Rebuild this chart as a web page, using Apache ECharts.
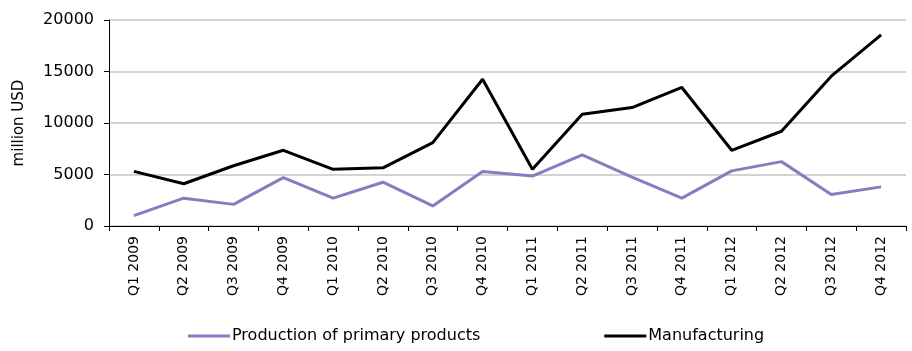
<!DOCTYPE html>
<html>
<head>
<meta charset="utf-8">
<script src="https://cdn.jsdelivr.net/npm/echarts@6/dist/echarts.min.js"></script>
<style>
  html, body { margin: 0; padding: 0; background: #fff; }
  #chart { width: 912px; height: 351px; }
</style>
</head>
<body>
<div id="chart"></div>
<script>
// Quarterly values, million USD
const quarters = [
  'Q1 2009', 'Q2 2009', 'Q3 2009', 'Q4 2009',
  'Q1 2010', 'Q2 2010', 'Q3 2010', 'Q4 2010',
  'Q1 2011', 'Q2 2011', 'Q3 2011', 'Q4 2011',
  'Q1 2012', 'Q2 2012', 'Q3 2012', 'Q4 2012'
];
const primaryProducts = [1000, 2700, 2100, 4700, 2700, 4250, 1950, 5300, 4850, 6900, 4750, 2700, 5350, 6250, 3050, 3800];
const manufacturing = [5300, 4100, 5850, 7350, 5500, 5650, 8100, 14250, 5500, 10850, 11500, 13450, 7350, 9200, 14550, 18550];

const FONT = 'DejaVu Sans';

const chart = echarts.init(document.getElementById('chart'));
chart.setOption({
  animation: false,
  grid: { left: 109, right: 6, top: 20, bottom: 125, containLabel: false },
  legend: {
    bottom: 2,
    left: 183,
    itemGap: 124,
    itemWidth: 42,
    itemHeight: 3,
    icon: 'rect',
    textStyle: { fontFamily: FONT, fontSize: 16, color: '#000', padding: [0, 0, 0, -3] },
    data: ['Production of primary products', 'Manufacturing']
  },
  xAxis: {
    type: 'category',
    data: quarters,
    boundaryGap: true,
    axisLine: { lineStyle: { color: '#000', width: 1 } },
    axisTick: { show: true, length: 5, lineStyle: { color: '#000' } },
    axisLabel: { rotate: 90, fontFamily: FONT, fontSize: 14, color: '#000', margin: 10, interval: 0 }
  },
  yAxis: {
    type: 'value',
    min: 0,
    max: 20000,
    interval: 5000,
    name: 'million USD',
    nameLocation: 'middle',
    nameGap: 82,
    nameTextStyle: { fontFamily: FONT, fontSize: 15, color: '#000' },
    axisLine: { show: true, lineStyle: { color: '#000', width: 1 } },
    axisTick: { show: true, length: 5, inside: false, lineStyle: { color: '#000' } },
    axisLabel: { fontFamily: FONT, fontSize: 16, color: '#000', margin: 15, formatter: v => String(v) },
    splitLine: { show: true, lineStyle: { color: '#c4c4c4', width: 1.5 } }
  },
  series: [
    {
      name: 'Production of primary products',
      type: 'line',
      data: primaryProducts,
      symbol: 'none',
      lineStyle: { color: '#8080c0', width: 3 },
      itemStyle: { color: '#8080c0' }
    },
    {
      name: 'Manufacturing',
      type: 'line',
      data: manufacturing,
      symbol: 'none',
      lineStyle: { color: '#000', width: 3 },
      itemStyle: { color: '#000' }
    }
  ]
});
</script>
</body>
</html>
